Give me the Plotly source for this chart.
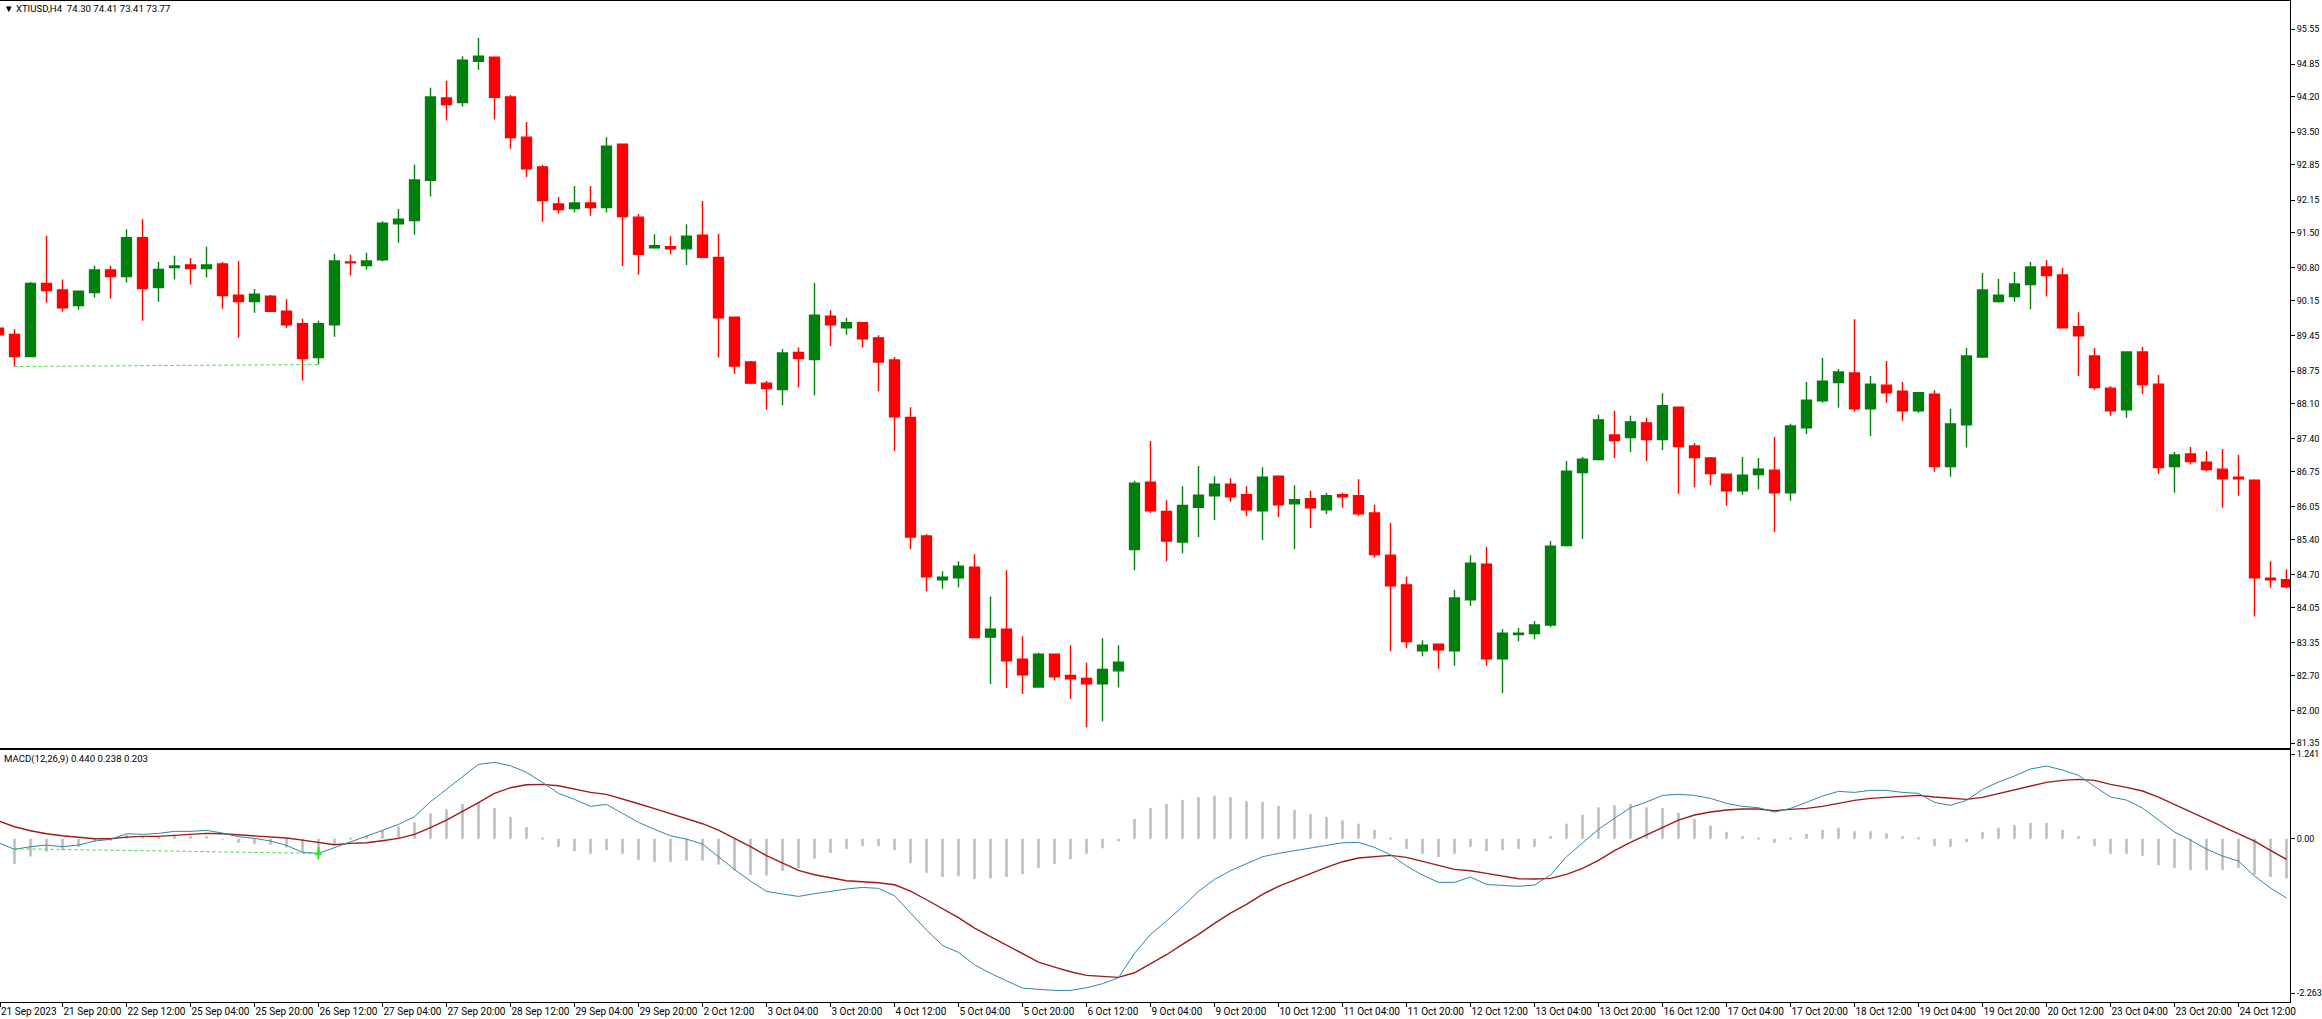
import plotly.graph_objects as go

# XTIUSD H4 chart with MACD pane

bar_index = list(range(-1, 143))

opens = [
    89.60, 89.48, 89.04, 90.49, 90.36, 90.05, 90.31, 90.76, 90.63, 91.40, 90.41, 90.81,
    90.86, 90.79, 90.88, 90.26, 90.13, 90.24, 89.94, 89.69, 89.02, 89.67, 90.92, 90.85,
    90.96, 91.68, 91.74, 92.54, 94.18, 94.09, 94.91, 94.99, 94.20, 93.40, 92.81, 92.07,
    91.98, 92.09, 92.00, 93.26, 91.81, 91.20, 91.22, 91.18, 91.45, 91.01, 89.82, 88.93,
    88.51, 88.38, 89.12, 88.98, 89.84, 89.61, 89.71, 89.41, 88.97, 87.83, 85.47, 84.60,
    84.64, 84.85, 83.46, 83.62, 83.02, 82.47, 83.12, 82.70, 82.64, 82.53, 82.79, 85.20,
    86.54, 85.96, 85.35, 86.04, 86.27, 86.50, 86.29, 85.97, 86.66, 86.11, 86.21, 85.99,
    86.29, 86.27, 85.93, 85.09, 84.50, 83.19, 83.32, 83.19, 84.20, 84.91, 83.03, 83.51,
    83.53, 83.70, 85.28, 86.73, 86.99, 87.48, 87.43, 87.72, 87.39, 88.03, 87.26, 87.02,
    86.70, 86.37, 86.69, 86.78, 86.33, 87.62, 88.16, 88.52, 88.71, 88.00, 88.47, 88.35,
    87.96, 88.29, 86.85, 87.68, 89.03, 90.13, 90.23, 90.47, 90.82, 90.66, 89.63, 89.05,
    88.41, 87.98, 89.13, 88.49, 86.85, 87.10, 86.94, 86.80, 86.64, 86.58, 84.63, 84.60,
]
highs = [
    89.63, 89.58, 90.52, 91.44, 90.57, 90.34, 90.85, 90.85, 91.57, 91.77, 90.92, 91.04,
    91.00, 91.22, 90.92, 90.94, 90.38, 90.26, 90.18, 89.79, 89.75, 91.08, 91.06, 91.10,
    91.73, 91.97, 92.85, 94.38, 94.52, 95.01, 95.37, 94.99, 94.24, 93.70, 92.85, 92.21,
    92.43, 92.43, 93.40, 93.26, 91.87, 91.47, 91.43, 91.67, 92.13, 91.48, 89.82, 88.95,
    88.55, 89.19, 89.22, 90.50, 89.96, 89.81, 89.72, 89.46, 89.03, 88.03, 85.51, 84.77,
    84.97, 85.11, 84.27, 84.79, 83.48, 83.15, 83.12, 83.30, 82.95, 83.44, 83.30, 86.57,
    87.36, 86.18, 86.46, 86.86, 86.66, 86.62, 86.46, 86.84, 86.66, 86.48, 86.37, 86.33,
    86.33, 86.60, 86.09, 85.73, 84.66, 83.40, 83.32, 84.40, 85.09, 85.25, 83.62, 83.64,
    83.78, 85.37, 86.96, 87.04, 87.88, 87.96, 87.86, 87.82, 88.31, 88.03, 87.32, 87.04,
    86.70, 87.04, 87.02, 87.44, 87.70, 88.53, 89.01, 88.79, 89.78, 88.65, 88.95, 88.53,
    88.33, 88.37, 88.00, 89.21, 90.70, 90.58, 90.72, 90.92, 90.96, 90.80, 89.92, 89.21,
    88.45, 89.13, 89.23, 88.67, 87.14, 87.24, 87.16, 87.20, 87.08, 86.60, 84.97, 84.81,
]
lows = [
    89.47, 88.84, 89.04, 90.11, 89.93, 89.97, 90.21, 90.19, 90.51, 89.75, 90.13, 90.57,
    90.47, 90.61, 89.99, 89.41, 89.91, 89.93, 89.61, 88.56, 88.88, 89.43, 90.65, 90.77,
    90.93, 91.30, 91.46, 92.22, 93.73, 94.01, 94.74, 93.75, 93.17, 92.61, 91.72, 91.88,
    91.90, 91.84, 91.90, 90.84, 90.67, 91.18, 91.07, 90.86, 91.01, 89.02, 88.69, 88.49,
    87.98, 88.07, 88.43, 88.27, 89.25, 89.47, 89.22, 88.35, 87.16, 85.21, 84.37, 84.42,
    84.45, 83.45, 82.53, 82.45, 82.33, 82.47, 82.60, 82.23, 81.67, 81.79, 82.46, 84.79,
    85.93, 84.97, 85.13, 85.45, 85.79, 86.15, 85.87, 85.39, 85.85, 85.21, 85.63, 85.91,
    86.03, 85.87, 85.04, 83.18, 83.24, 83.08, 82.83, 82.89, 84.08, 82.89, 82.35, 83.38,
    83.42, 83.66, 85.26, 85.41, 86.97, 87.02, 87.14, 86.96, 87.18, 86.31, 86.44, 86.48,
    86.07, 86.29, 86.40, 85.55, 86.17, 87.50, 88.12, 88.02, 87.94, 87.46, 88.12, 87.76,
    87.92, 86.75, 86.65, 87.23, 89.01, 90.11, 90.13, 89.98, 90.23, 89.61, 88.65, 88.38,
    87.86, 87.82, 88.30, 86.71, 86.33, 86.89, 86.76, 86.03, 86.27, 83.87, 84.44, 84.43,
]
closes = [
    89.47, 89.04, 90.49, 90.35, 90.01, 90.34, 90.76, 90.63, 91.40, 90.39, 90.77, 90.84,
    90.79, 90.86, 90.25, 90.13, 90.28, 89.94, 89.67, 89.00, 89.69, 90.94, 90.90, 90.94,
    91.69, 91.77, 92.55, 94.20, 94.05, 94.93, 95.01, 94.19, 93.39, 92.77, 92.14, 91.96,
    92.09, 92.00, 93.22, 91.82, 91.07, 91.24, 91.18, 91.43, 91.01, 89.81, 88.85, 88.51,
    88.40, 89.11, 89.00, 89.86, 89.67, 89.71, 89.39, 88.93, 87.84, 85.45, 84.66, 84.65,
    84.87, 83.45, 83.62, 82.99, 82.71, 83.12, 82.67, 82.63, 82.53, 82.82, 82.96, 86.52,
    85.97, 85.37, 86.08, 86.28, 86.50, 86.25, 85.99, 86.64, 86.09, 86.19, 86.03, 86.27,
    86.25, 85.91, 85.10, 84.48, 83.37, 83.30, 83.21, 84.24, 84.93, 83.03, 83.54, 83.54,
    83.70, 85.27, 86.76, 87.00, 87.78, 87.37, 87.74, 87.39, 88.06, 87.25, 87.03, 86.71,
    86.37, 86.68, 86.80, 86.33, 87.66, 88.17, 88.55, 88.73, 88.00, 88.49, 88.32, 87.96,
    88.32, 86.85, 87.70, 89.05, 90.36, 90.26, 90.48, 90.82, 90.65, 89.61, 89.45, 88.42,
    87.96, 89.13, 88.48, 86.83, 87.08, 86.95, 86.79, 86.61, 86.61, 84.64, 84.60, 84.46,
]

macd_hist = [
    -0.40, -0.37, -0.26, -0.19, -0.17, -0.12, -0.05, -0.03, 0.06, 0.03, 0.04, 0.04,
    0.04, 0.04, -0.01, -0.06, -0.08, -0.09, -0.13, -0.20, -0.24, -0.08, 0.005, 0.05,
    0.13, 0.18, 0.24, 0.37, 0.43, 0.51, 0.53, 0.45, 0.32, 0.17, 0.005, -0.12,
    -0.18, -0.22, -0.17, -0.22, -0.31, -0.34, -0.34, -0.32, -0.32, -0.38, -0.47, -0.53,
    -0.54, -0.47, -0.43, -0.29, -0.21, -0.15, -0.11, -0.11, -0.17, -0.36, -0.50, -0.56,
    -0.55, -0.59, -0.58, -0.56, -0.52, -0.43, -0.37, -0.30, -0.22, -0.14, -0.04, 0.29,
    0.45, 0.51, 0.57, 0.61, 0.63, 0.61, 0.55, 0.54, 0.48, 0.42, 0.36, 0.32,
    0.27, 0.22, 0.13, 0.005, -0.15, -0.22, -0.27, -0.22, -0.12, -0.18, -0.17, -0.15,
    -0.12, 0.04, 0.22, 0.35, 0.46, 0.49, 0.51, 0.46, 0.45, 0.38, 0.29, 0.19,
    0.10, 0.04, 0.005, -0.06, 0.005, 0.07, 0.13, 0.16, 0.11, 0.11, 0.08, 0.04,
    0.02, -0.11, -0.12, -0.05, 0.10, 0.16, 0.20, 0.23, 0.23, 0.13, 0.04, -0.11,
    -0.22, -0.22, -0.25, -0.39, -0.43, -0.46, -0.46, -0.46, -0.43, -0.53, -0.56, -0.58,
]
macd_line = [
    -0.059, -0.156, -0.117, -0.093, -0.117, -0.093, -0.034, -0.010, 0.073, 0.064, 0.078, 0.108,
    0.108, 0.122, 0.083, 0.029, 0.005, -0.034, -0.098, -0.200, -0.215, -0.132, -0.054, 0.034,
    0.122, 0.210, 0.323, 0.543, 0.723, 0.914, 1.090, 1.119, 1.070, 0.973, 0.826, 0.665,
    0.577, 0.474, 0.503, 0.371, 0.240, 0.137, 0.044, -0.005, -0.078, -0.264, -0.450, -0.621,
    -0.772, -0.811, -0.846, -0.806, -0.767, -0.738, -0.714, -0.728, -0.836, -1.080, -1.339, -1.564,
    -1.667, -1.848, -1.975, -2.082, -2.190, -2.209, -2.224, -2.224, -2.185, -2.126, -2.038, -1.681,
    -1.403, -1.207, -0.997, -0.772, -0.596, -0.469, -0.371, -0.264, -0.215, -0.176, -0.137, -0.088,
    -0.059, -0.054, -0.127, -0.235, -0.401, -0.533, -0.640, -0.640, -0.562, -0.670, -0.684, -0.699,
    -0.679, -0.533, -0.264, -0.068, 0.137, 0.298, 0.455, 0.538, 0.635, 0.650, 0.635, 0.591,
    0.518, 0.474, 0.455, 0.391, 0.445, 0.533, 0.626, 0.694, 0.679, 0.709, 0.709, 0.679,
    0.665, 0.533, 0.489, 0.562, 0.723, 0.831, 0.919, 1.022, 1.066, 1.007, 0.929, 0.767,
    0.611, 0.567, 0.450, 0.274, 0.098, -0.020, -0.152, -0.254, -0.327, -0.547, -0.723, -0.870,
]
signal_line = [
    0.259, 0.176, 0.117, 0.073, 0.044, 0.024, 0.0, 0.0, 0.024, 0.034, 0.034, 0.049,
    0.064, 0.078, 0.073, 0.059, 0.044, 0.034, 0.010, -0.020, -0.054, -0.088, -0.068, -0.059,
    -0.029, 0.005, 0.064, 0.161, 0.274, 0.396, 0.528, 0.665, 0.748, 0.792, 0.797, 0.777,
    0.733, 0.679, 0.650, 0.587, 0.513, 0.440, 0.367, 0.298, 0.220, 0.127, 0.010, -0.117,
    -0.249, -0.362, -0.464, -0.528, -0.572, -0.616, -0.631, -0.645, -0.675, -0.767, -0.895, -1.031,
    -1.158, -1.310, -1.437, -1.554, -1.681, -1.809, -1.882, -1.950, -2.004, -2.024, -2.033, -1.965,
    -1.838, -1.701, -1.550, -1.403, -1.241, -1.090, -0.963, -0.816, -0.699, -0.601, -0.513, -0.420,
    -0.337, -0.283, -0.259, -0.244, -0.274, -0.327, -0.391, -0.450, -0.469, -0.508, -0.543, -0.587,
    -0.591, -0.582, -0.523, -0.435, -0.318, -0.176, -0.054, 0.054, 0.161, 0.274, 0.347, 0.391,
    0.420, 0.435, 0.435, 0.411, 0.430, 0.445, 0.474, 0.523, 0.562, 0.591, 0.606, 0.621,
    0.635, 0.611, 0.591, 0.577, 0.606, 0.660, 0.719, 0.772, 0.826, 0.855, 0.870, 0.855,
    0.797, 0.753, 0.699, 0.611, 0.503, 0.401, 0.284, 0.186, 0.078, -0.034, -0.171, -0.303,
]

# drawn trendlines, the pattern start and end bars
trend_bars = [0, 19]
price_trend = [88.84, 88.88]
macd_trend = [-0.147, -0.215]

price_ticks = [95.55, 94.85, 94.20, 93.50, 92.85, 92.15, 91.50, 90.80, 90.15, 89.45, 88.75,
               88.10, 87.40, 86.75, 86.05, 85.40, 84.70, 84.05, 83.35, 82.70, 82.00, 81.35]
price_tick_labels = ["%.2f" % p for p in price_ticks]
macd_ticks = [1.241, 0, -2.263]
macd_tick_labels = ["1.241", "0.00", "-2.263"]

time_labels = [
    "21 Sep 2023", "21 Sep 20:00", "22 Sep 12:00", "25 Sep 04:00", "25 Sep 20:00", "26 Sep 12:00",
    "27 Sep 04:00", "27 Sep 20:00", "28 Sep 12:00", "29 Sep 04:00", "29 Sep 20:00", "2 Oct 12:00",
    "3 Oct 04:00", "3 Oct 20:00", "4 Oct 12:00", "5 Oct 04:00", "5 Oct 20:00", "6 Oct 12:00",
    "9 Oct 04:00", "9 Oct 20:00", "10 Oct 12:00", "11 Oct 04:00", "11 Oct 20:00", "12 Oct 12:00",
    "13 Oct 04:00", "13 Oct 20:00", "16 Oct 12:00", "17 Oct 04:00", "17 Oct 20:00", "18 Oct 12:00",
    "19 Oct 04:00", "19 Oct 20:00", "20 Oct 12:00", "23 Oct 04:00", "23 Oct 20:00", "24 Oct 12:00",
]

WIDTH = 2322
HEIGHT = 1019
FONT = "Roboto, sans-serif"
X_RANGE = [-0.906, 142.22]
GREEN = "#007F0E"
RED = "#FF0000"
TREND = "#3DD63D"

# first label sits on the left edge, keep its tick inside the range
time_ticks = bar_index[::4]
time_ticks[0] = X_RANGE[0]

fig = go.Figure()

fig.add_trace(go.Candlestick(
    x=bar_index, open=opens, high=highs, low=lows, close=closes,
    increasing=dict(line=dict(color=GREEN, width=1.4), fillcolor=GREEN),
    decreasing=dict(line=dict(color=RED, width=1.4), fillcolor=RED),
    whiskerwidth=0,
    xaxis="x", yaxis="y",
))
fig.add_trace(go.Scatter(
    x=trend_bars, y=price_trend, mode="lines",
    line=dict(color=TREND, width=1, dash="3px,3px"),
    xaxis="x", yaxis="y",
))

fig.add_trace(go.Bar(
    x=bar_index, y=macd_hist, width=0.17, marker=dict(color="#C0C0C0", line=dict(width=0)),
    xaxis="x2", yaxis="y2",
))
fig.add_trace(go.Scatter(
    x=bar_index, y=signal_line, mode="lines", line=dict(color="#9E1B1B", width=1.4),
    xaxis="x2", yaxis="y2",
))
fig.add_trace(go.Scatter(
    x=bar_index, y=macd_line, mode="lines", line=dict(color="#2F86AE", width=1),
    xaxis="x2", yaxis="y2",
))
fig.add_trace(go.Scatter(
    x=trend_bars, y=macd_trend, mode="lines",
    line=dict(color=TREND, width=1, dash="3px,3px"),
    xaxis="x2", yaxis="y2",
))
# arrow: head and shaft
fig.add_trace(go.Scatter(
    x=trend_bars[1:], y=macd_trend[1:], mode="markers",
    marker=dict(symbol="line-ns", size=9, line=dict(color="#22F022", width=2)),
    xaxis="x2", yaxis="y2",
))
fig.add_trace(go.Scatter(
    x=trend_bars[1:], y=macd_trend[1:], mode="markers",
    marker=dict(symbol="triangle-up", size=7, color="#22F022", line=dict(width=0)),
    xaxis="x2", yaxis="y2",
))

fig.update_layout(
    width=WIDTH,
    height=HEIGHT,
    margin=dict(l=0, r=0, t=0, b=0),
    paper_bgcolor="white",
    plot_bgcolor="white",
    showlegend=False,
    boxgap=0,
    boxgroupgap=0.38,
    font=dict(family=FONT, size=10, color="black"),
    xaxis=dict(
        domain=[0, 2290 / WIDTH], range=X_RANGE, anchor="y", automargin=False,
        rangeslider=dict(visible=False),
        showticklabels=False, ticks="", showgrid=False, zeroline=False,
        showline=True, mirror=True, linecolor="black", linewidth=1,
    ),
    yaxis=dict(
        domain=[1 - 747.5 / HEIGHT, 1 - 1 / HEIGHT], range=[81.266, 96.107],
        side="right", anchor="x", automargin=False,
        tickmode="array", tickvals=price_ticks, ticktext=price_tick_labels,
        tickfont=dict(size=9),
        ticks="outside", ticklen=4, tickcolor="black", tickwidth=1,
        showgrid=False, zeroline=False, showline=True, linecolor="black", linewidth=1,
    ),
    xaxis2=dict(
        domain=[0, 2290 / WIDTH], range=X_RANGE, anchor="y2", automargin=False,
        tickmode="array", tickvals=time_ticks, ticktext=time_labels,
        ticks="outside", ticklen=4, tickcolor="black", tickwidth=1,
        ticklabelposition="outside right", tickangle=0,
        showgrid=False, zeroline=False,
        showline=True, mirror=True, linecolor="black", linewidth=1,
    ),
    yaxis2=dict(
        domain=[1 - 1002 / HEIGHT, 1 - 749.5 / HEIGHT], range=[-2.394, 1.308],
        side="right", anchor="x2", automargin=False,
        tickmode="array", tickvals=macd_ticks, ticktext=macd_tick_labels,
        tickfont=dict(size=9),
        ticks="outside", ticklen=4, tickcolor="black", tickwidth=1,
        showgrid=False, zeroline=False, showline=True, linecolor="black", linewidth=1,
    ),
    annotations=[
        dict(text="▼ XTIUSD,H4\u00a0\u00a074.30 74.41 73.41 73.77", xref="paper", yref="paper",
             font=dict(size=9.6),
             x=2 / WIDTH, y=1 - 8.5 / HEIGHT, xanchor="left", yanchor="middle", showarrow=False),
        dict(text="MACD(12,26,9) 0.440 0.238 0.203", xref="paper", yref="paper",
             font=dict(size=9.6),
             x=2 / WIDTH, y=1 - 759 / HEIGHT, xanchor="left", yanchor="middle", showarrow=False),
    ],
)

fig.write_html("out.html", config=dict(displayModeBar=False),
               post_script="document.body.style.margin='0';")
